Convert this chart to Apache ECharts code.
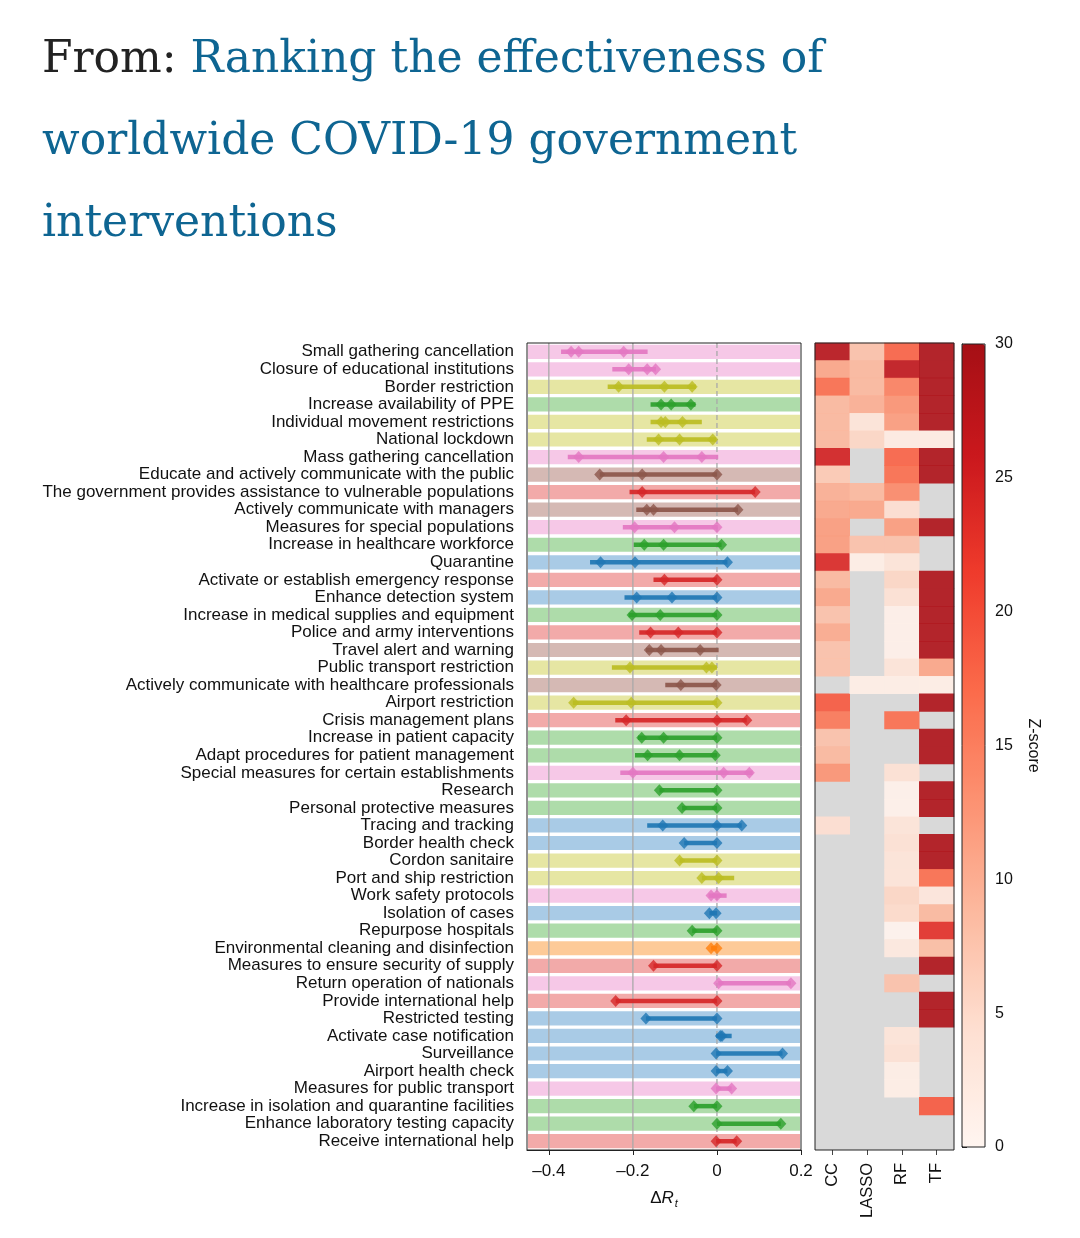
<!DOCTYPE html>
<html><head><meta charset="utf-8">
<script src="https://cdn.jsdelivr.net/npm/echarts@6/dist/echarts.min.js"></script>
<style>html,body{margin:0;padding:0;background:#fff}#c{width:1080px;height:1238px}</style>
</head><body><div id="c"></div><script>
// ---------- DATA ----------
const labels = [
 'Small gathering cancellation','Closure of educational institutions','Border restriction','Increase availability of PPE',
 'Individual movement restrictions','National lockdown','Mass gathering cancellation','Educate and actively communicate with the public',
 'The government provides assistance to vulnerable populations','Actively communicate with managers','Measures for special populations',
 'Increase in healthcare workforce','Quarantine','Activate or establish emergency response','Enhance detection system',
 'Increase in medical supplies and equipment','Police and army interventions','Travel alert and warning','Public transport restriction',
 'Actively communicate with healthcare professionals','Airport restriction','Crisis management plans','Increase in patient capacity',
 'Adapt procedures for patient management','Special measures for certain establishments','Research','Personal protective measures',
 'Tracing and tracking','Border health check','Cordon sanitaire','Port and ship restriction','Work safety protocols','Isolation of cases',
 'Repurpose hospitals','Environmental cleaning and disinfection','Measures to ensure security of supply','Return operation of nationals',
 'Provide international help','Restricted testing','Activate case notification','Surveillance','Airport health check',
 'Measures for public transport','Increase in isolation and quarantine facilities','Enhance laboratory testing capacity','Receive international help'
];
const groups = ['pink','pink','olive','green','olive','olive','pink','brown','red','brown','pink','green','blue','red','blue','green',
 'red','brown','olive','brown','olive','red','green','green','pink','green','green','blue','blue','olive','olive','pink','blue','green',
 'orange','red','pink','red','blue','blue','blue','blue','pink','green','green','red'];
const lo = [-0.371,-0.249,-0.260,-0.158,-0.158,-0.167,-0.355,-0.279,-0.208,-0.192,-0.224,-0.198,-0.302,-0.151,-0.220,-0.210,
 -0.185,-0.169,-0.250,-0.123,-0.343,-0.242,-0.188,-0.195,-0.230,-0.137,-0.083,-0.166,-0.078,-0.089,-0.036,-0.020,-0.018,-0.059,
 -0.014,-0.151,0.003,-0.241,-0.169,-0.002,-0.002,-0.002,-0.002,-0.055,0.0,-0.002];
const hi = [-0.165,-0.145,-0.050,-0.051,-0.036,-0.002,0.003,0.0,0.091,0.050,0.002,0.011,0.025,0.0,0.0,0.0,
 0.0,0.004,0.0,0.0,0.0,0.071,0.0,0.0,0.085,0.0,0.0,0.059,0.0,0.0,0.041,0.023,0.0,0.0,
 0.0,0.0,0.176,0.0,0.0,0.035,0.156,0.025,0.035,0.0,0.152,0.047];
const estimates = [
 [-0.347,-0.329,-0.222],[-0.210,-0.166,-0.146],[-0.234,-0.125,-0.059],[-0.133,-0.109,-0.062],[-0.133,-0.123,-0.082],
 [-0.139,-0.089,-0.010],[-0.329,-0.127,-0.036],[-0.279,-0.178,0.0],[-0.178,0.091],[-0.167,-0.151,0.050],[-0.196,-0.101,0.0],
 [-0.173,-0.127,0.011],[-0.277,-0.195,0.025],[-0.125,0.0],[-0.191,-0.107,0.0],[-0.202,-0.135,0.0],[-0.158,-0.092,0.0],
 [-0.161,-0.133,-0.040],[-0.207,-0.025,-0.012],[-0.086,-0.002],[-0.341,-0.204,0.0],[-0.216,0.0,0.071],[-0.179,-0.127,0.0],
 [-0.165,-0.089,-0.004],[-0.200,0.016,0.077],[-0.137,0.0],[-0.083,0.0],[-0.129,0.0,0.059],[-0.078,0.0],[-0.089,0.0],
 [-0.036,0.004],[-0.014,0.0],[-0.018,-0.002],[-0.059,0.0],[-0.014,0.0],[-0.151,0.0],[0.004,0.176],[-0.241,0.0],[-0.169,0.0],
 [0.008,0.012],[-0.002,0.156],[-0.002,0.025],[-0.002,0.035],[-0.055,0.0],[0.0,0.152],[-0.002,0.047]
];
const methods = ['CC','LASSO','RF','TF'];
const zCC = [28,11,17,9,9,9,25,7,10,11,12,12,24,9,11,8,10.5,8,8,null,19,16,8,9,13,null,null,4.5,
 null,null,null,null,null,null,null,null,null,null,null,null,null,null,null,null,null,null];
const zLASSO = [8,9,9,10,3.5,5.5,null,null,9,11,null,8,1.5,null,null,null,null,null,null,1.5,null,null,null,null,null,null,null,null,
 null,null,null,null,null,null,null,null,null,null,null,null,null,null,null,null,null,null];
const zRF = [18,27,15,13,12,2,18,17,14,4.5,12,8,3.5,5.5,4,1,1,1,3.5,1.5,null,17,null,null,4,0.8,0.8,3.5,4,3.5,3.5,5.5,5,0.5,2.5,null,8,
 null,null,3.5,4,1.5,1.5,null,null,null];
const zTF = [29,29,29,29,29,2,29,29,null,null,29,null,null,29,29,29,29,29,11,1.5,29,null,29,29,null,29,29,null,29,29,17,3,9,23,
 8.5,29,null,29,29,null,null,null,null,19,null,null];
const xTicks = [-0.4,-0.2,0,0.2];
const xRange = [-0.452, 0.2];
const refLines = [[-0.4,0],[-0.2,0],[0,1]]; // value, dashed flag
const zRange = [0,30];
const zInterval = 5;

// ---------- STYLE ----------
const mainColor = {pink:'#e377c2',olive:'#bcbd22',green:'#2ca02c',brown:'#8c564b',red:'#d62728',blue:'#1f77b4',orange:'#ff7f0e'};
const bandColor = {pink:'#f6c8e7',olive:'#e6e6a3',green:'#aedcaa',brown:'#d5b9b4',red:'#f2aaa9',blue:'#a9cbe6',orange:'#fdca98'};
const reds = ['#fff5f0','#fee0d2','#fcbba1','#fc9272','#fb6a4a','#ef3b2c','#cb181d','#a50f15'];
const SANS = 'Liberation Sans';
const SERIF = 'DejaVu Serif';
const G0 = {left:527, top:343, width:274, height:807};
const G1 = {left:815, top:343, width:139, height:807};
const G2 = {left:962, top:344, width:23, height:803};

const heatData = [];
[zCC,zLASSO,zRF,zTF].forEach((arr,j)=>arr.forEach((v,i)=>{ if(v!==null) heatData.push([j,i,v]); }));
const diamondData = [];
estimates.forEach((arr,i)=>arr.forEach(v=>diamondData.push({value:[v,i], itemStyle:{color:mainColor[groups[i]]}})));

function frameSeries(xi, yi){
  return {type:'custom', xAxisIndex:xi, yAxisIndex:yi, z:10, silent:true, data:[[0,0]],
    renderItem:(p,api)=>{const cs=p.coordSys; return {type:'rect', shape:{x:cs.x,y:cs.y,width:cs.width,height:cs.height},
      style:{fill:'none', stroke:'#222', lineWidth:1}};}};
}

const chart = echarts.init(document.getElementById('c'), null, {renderer:'canvas'});
chart.setOption({
  animation:false,
  backgroundColor:'#fff',
  graphic:[
    {type:'text', x:42, y:61, style:{text:'{a|From: }{b|Ranking the effectiveness of}', verticalAlign:'middle',
      rich:{a:{fill:'#222', fontSize:44, fontFamily:SERIF}, b:{fill:'#0e6592', fontSize:44, fontFamily:SERIF}}}},
    {type:'text', x:42, y:143, style:{text:'worldwide COVID-19 government', verticalAlign:'middle', fill:'#0e6592', fontSize:44, fontFamily:SERIF}},
    {type:'text', x:42, y:225, style:{text:'interventions', verticalAlign:'middle', fill:'#0e6592', fontSize:44, fontFamily:SERIF}}
  ],
  grid:[
    Object.assign({show:false}, G0),
    Object.assign({show:true, backgroundColor:'#d9d9d9', borderWidth:0}, G1),
    Object.assign({show:false}, G2)
  ],
  xAxis:[
    {gridIndex:0, type:'value', min:xRange[0], max:xRange[1], splitLine:{show:false},
     axisLine:{show:true, lineStyle:{color:'#222'}},
     axisTick:{show:true, customValues:xTicks, length:5, lineStyle:{color:'#222'}},
     axisLabel:{customValues:xTicks, fontSize:17, fontFamily:SANS, color:'#111', margin:13,
       formatter:v=> v<0 ? '\u2013'+String(Math.abs(v)) : String(v)},
     name:'{d|\u0394}{r|R}{s|t}', nameLocation:'middle', nameGap:38,
     nameTextStyle:{rich:{d:{fontSize:17,fontFamily:SANS,color:'#111'}, r:{fontSize:17,fontFamily:SANS,fontStyle:'italic',color:'#111'},
       s:{fontSize:11,fontFamily:SANS,fontStyle:'italic',color:'#111',padding:[10,0,0,1]}}}},
    {gridIndex:1, type:'category', data:methods, axisLine:{show:false},
     axisTick:{show:true, alignWithLabel:true, length:5, lineStyle:{color:'#444'}},
     axisLabel:{rotate:90, fontSize:16.5, fontFamily:SANS, color:'#111', margin:13, interval:0}},
    {gridIndex:2, type:'value', show:false, min:0, max:1}
  ],
  yAxis:[
    {gridIndex:0, type:'category', data:labels, inverse:true, axisLine:{show:false},
     axisTick:{show:true, alignWithLabel:true, length:5, interval:0, lineStyle:{color:'#222'}},
     axisLabel:{fontSize:17, fontFamily:SANS, color:'#111', margin:13, interval:0}},
    {gridIndex:1, type:'category', data:labels, inverse:true, axisLine:{show:false}, axisTick:{show:false}, axisLabel:{show:false}},
    {gridIndex:2, type:'value', position:'right', min:zRange[0], max:zRange[1], interval:zInterval,
     splitLine:{show:false}, axisLine:{show:true, lineStyle:{color:'#222'}},
     axisTick:{show:true, length:5, lineStyle:{color:'#222'}},
     axisLabel:{fontSize:16, fontFamily:SANS, color:'#111', margin:10},
     name:'Z-score', nameLocation:'middle', nameRotate:-90, nameGap:40,
     nameTextStyle:{fontSize:16, fontFamily:SANS, color:'#111'}}
  ],
  visualMap:{type:'continuous', min:zRange[0], max:zRange[1], seriesIndex:5, calculable:false, orient:'vertical',
    left:G2.left, top:G2.top, itemWidth:G2.width, itemHeight:G2.height, padding:0, text:null, showLabel:false,
    inRange:{color:reds}, textStyle:{fontSize:0}},
  series:[
    {type:'custom', xAxisIndex:0, yAxisIndex:0, z:1, silent:true,
     data:labels.map((l,i)=>[0,i]), encode:{x:0,y:1},
     renderItem:(p,api)=>{const i=api.value(1); const cs=p.coordSys; const c=api.coord([0,i]); const h=api.size([0,1])[1];
       return {type:'rect', shape:{x:cs.x+1, y:c[1]-h*0.405, width:cs.width-2, height:h*0.81}, style:{fill:bandColor[groups[i]]}};}},
    {type:'custom', xAxisIndex:0, yAxisIndex:0, z:3, silent:true, data:refLines, encode:{x:0,y:1},
     renderItem:(p,api)=>{const cs=p.coordSys; const x=api.coord([api.value(0),0])[0]; const dashed=refLines[p.dataIndex][1]===1;
       return {type:'line', shape:{x1:x,y1:cs.y,x2:x,y2:cs.y+cs.height},
         style:{stroke:'#a9a9a9', lineWidth:1.3, lineDash: dashed?[5,3]:null}};}},
    {type:'custom', xAxisIndex:0, yAxisIndex:0, z:4, silent:true,
     data:lo.map((v,i)=>[v,hi[i],i]), encode:{x:[0,1],y:2},
     renderItem:(p,api)=>{const i=api.value(2); const a=api.coord([api.value(0),i]); const b=api.coord([api.value(1),i]);
       return {type:'line', shape:{x1:a[0],y1:a[1],x2:b[0],y2:b[1]}, style:{stroke:mainColor[groups[i]], lineWidth:4.5, opacity:0.92}};}},
    {type:'scatter', xAxisIndex:0, yAxisIndex:0, z:5, symbol:'diamond', symbolSize:[11,12], data:diamondData, silent:true},
    frameSeries(0,0),
    {type:'heatmap', xAxisIndex:1, yAxisIndex:1, data:heatData, itemStyle:{opacity:0.9}, silent:true},
    frameSeries(1,1),
    frameSeries(2,2)
  ]
});
</script></body></html>
